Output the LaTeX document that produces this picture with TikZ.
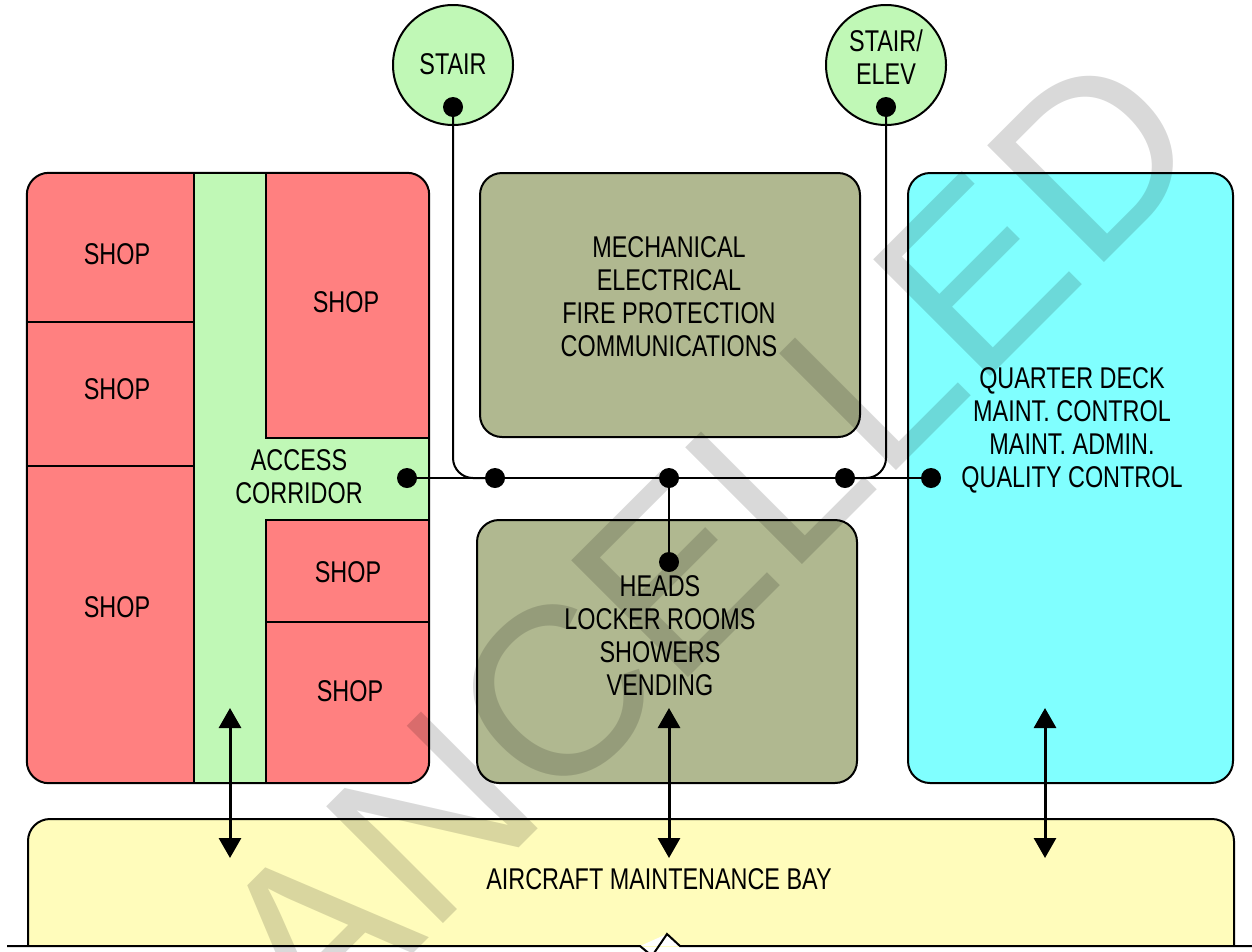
\documentclass[tikz,border=0pt]{standalone}
\usepackage{fontspec}
\setmainfont{Liberation Sans}[FakeStretch=0.78]
\newfontfamily\wmfont{Liberation Sans}
\usetikzlibrary{arrows.meta}
\definecolor{shopred}{RGB}{255,128,128}
\definecolor{corrgreen}{RGB}{192,248,182}
\definecolor{olivebox}{RGB}{176,184,144}
\definecolor{qdcyan}{RGB}{128,255,255}
\definecolor{bayyellow}{RGB}{255,252,187}
\begin{document}
\begin{tikzpicture}[x=1pt,y=-1pt,
  every node/.style={font=\fontsize{30}{33}\selectfont, align=center, inner sep=0pt},
  roombox/.style={draw, line width=2pt, rounded corners=22pt},
  dot/.style={circle, fill=black, minimum size=20pt, inner sep=0pt},
  stairc/.style={circle, draw, line width=2pt, fill=corrgreen, minimum size=120pt},
  wall/.style={line width=2pt},
  divider/.style={line width=2.6pt},
  bus/.style={line width=2pt},
  biarrow/.style={{Triangle[width=22pt,length=20pt]}-{Triangle[width=22pt,length=20pt]}, line width=3pt}]
\useasboundingbox (0,0) rectangle (1252,951);

% aircraft maintenance bay
\begin{scope}
\clip (0,0) rectangle (1252,946);
\node[roombox, fill=bayyellow, minimum width=1206pt, minimum height=200pt, anchor=north west] (baybox) at (27,818) {};
\end{scope}
\fill[white] (640,946) -- (667,934) -- (680,946) -- cycle;
\draw[wall] (7,946) -- (640,946) -- (652,956) -- (667,934) -- (680,946) -- (1252,946);
\node (bay) at (659,879) {AIRCRAFT MAINTENANCE BAY};

% left shop block
\node[fill=shopred, rounded corners=22pt, minimum width=402pt, minimum height=610pt] (shops) at (228,478) {};
\fill[corrgreen] (194,173) rectangle (266,783);
\fill[corrgreen] (266,438) rectangle (429,520);
\draw[wall] (194,173) -- (194,783);
\draw[wall] (266,173) -- (266,438) -- (429,438);
\draw[wall] (429,520) -- (266,520) -- (266,783);
\draw[divider] (27,322) -- (194,322);
\draw[divider] (27,466) -- (194,466);
\draw[divider] (266,622) -- (429,622);
\draw[roombox] (shops.north west) rectangle (shops.south east);
\node (s1) at (117,254) {SHOP};
\node (s2) at (117,389) {SHOP};
\node (s3) at (117,607) {SHOP};
\node (s4) at (346,302) {SHOP};
\node (s5) at (348,572) {SHOP};
\node (s6) at (350,691) {SHOP};
\node (corr) at (299,477) {ACCESS\\CORRIDOR};

% other rooms
\node[roombox, fill=olivebox, minimum width=380pt, minimum height=264pt] (mech) at (670,305) {};
\node[roombox, fill=olivebox, minimum width=380pt, minimum height=263pt] (heads) at (667,651.5) {};
\node[roombox, fill=qdcyan, minimum width=325pt, minimum height=610pt] (qd) at (1070.5,478) {};
\node (mecht) at (669,297) {MECHANICAL\\ELECTRICAL\\FIRE PROTECTION\\COMMUNICATIONS};
\node (headst) at (660,636) {HEADS\\LOCKER ROOMS\\SHOWERS\\VENDING};
\node (qdt) at (1072,430) {QUARTER DECK\\MAINT. CONTROL\\MAINT. ADMIN.\\QUALITY CONTROL};

% stairs
\node[stairc] (st1) at (453,65) {};
\node[stairc] (st2) at (886,65) {};
\node (st1t) at (453,64) {STAIR};
\node (st2t) at (886,57) {STAIR/\\ELEV};

% connection dots
\node[dot] (dc) at (407,478) {};
\node[dot] (d1) at (495,478) {};
\node[dot] (d2) at (669,478) {};
\node[dot] (d3) at (845,478) {};
\node[dot] (dq) at (931,478) {};
\node[dot] (ds1) at (453,107) {};
\node[dot] (ds2) at (886,107) {};
\node[dot] (dh) at (669,562) {};
\draw[bus] (dc.center) -- (dq.center);
\draw[bus, rounded corners=20pt] (ds1.center) |- (d1.center);
\draw[bus, rounded corners=20pt] (ds2.center) |- (d3.center);
\draw[bus] (d2.center) -- (dh.center);

% arrows to the bay
\coordinate (a1t) at (230,708);
\coordinate (a1b) at (230,858);
\coordinate (a2t) at (669,708);
\coordinate (a2b) at (669,858);
\coordinate (a3t) at (1045,708);
\coordinate (a3b) at (1045,858);
\draw[biarrow] (a1t) -- (a1b);
\draw[biarrow] (a2t) -- (a2b);
\draw[biarrow] (a3t) -- (a3b);

% watermark
\node[rotate=45, font=\wmfont\fontsize{240}{240}\selectfont, text=black, text opacity=0.15] (wm) at (645,605) {CANCELLED};
\end{tikzpicture}
\end{document}
